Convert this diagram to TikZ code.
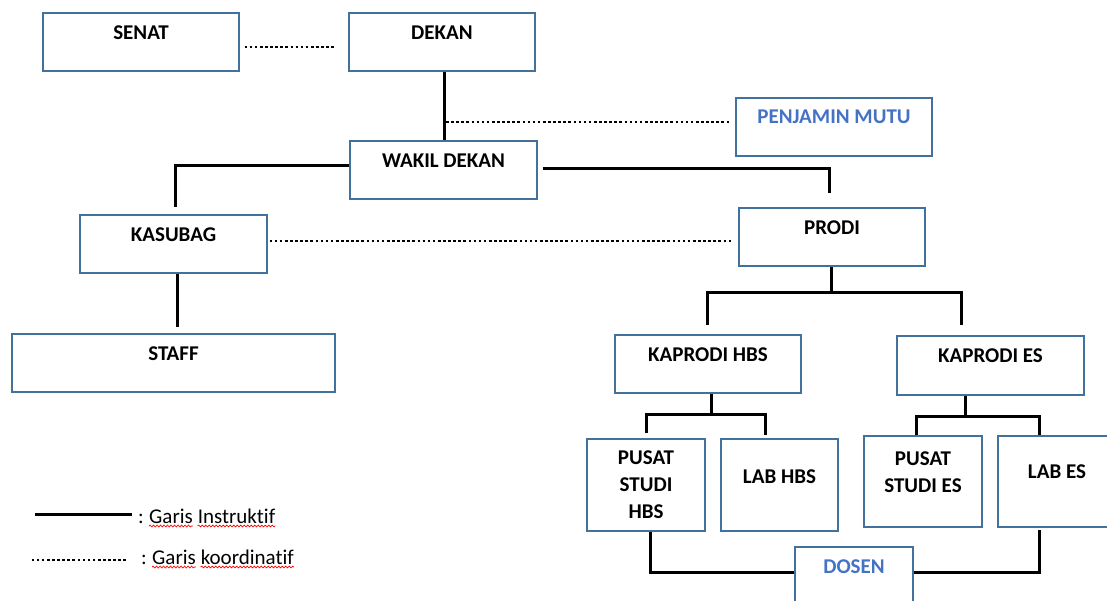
\documentclass[tikz,border=0pt]{standalone}
\usepackage{fontspec}
\setmainfont{Carlito}[Ligatures=NoCommon]
\usetikzlibrary{calc,positioning,decorations.pathmorphing}
\definecolor{boxline}{RGB}{65,113,156}
\definecolor{mutu}{RGB}{68,114,196}

\begin{document}
\begin{tikzpicture}[x=1pt, y=-1pt,
    box/.style={draw=boxline, line width=1.3pt, inner sep=0pt, minimum height=58pt},
    lbl/.style={font=\fontsize{21}{27}\selectfont\bfseries, anchor=center, yshift=-20pt, align=center},
    instr/.style={line width=3pt},
    koord/.style={line width=2.6pt, dash pattern=on 2.6pt off 2.5pt},
    legend/.style={font=\fontsize{21}{24}\selectfont, inner sep=0pt},
    spell/.style={draw=red, line width=0.7pt, decorate, decoration={snake, amplitude=0.9pt, segment length=3.5pt}}]
  \useasboundingbox (0,0) rectangle (1107,601);

  \node[box, minimum width=196pt, label={[lbl]north:SENAT}] (senat) at (141,42) {};
  \node[box, minimum width=186pt, label={[lbl]north:DEKAN}] (dekan) at (442,42) {};
  \node[box, minimum width=196pt, label={[lbl, text=mutu, yshift=1pt]north:PENJAMIN MUTU}] (pjm) at (834,127) {};
  \node[box, minimum width=187pt, label={[lbl]north:WAKIL DEKAN}] (wadek) at (443.5,170) {};
  \node[box, minimum width=187pt, label={[lbl]north:KASUBAG}] (kasubag) at (173.5,244) {};
  \node[box, minimum width=186pt, label={[lbl]north:PRODI}] (prodi) at (832,237) {};
  \node[box, minimum width=323pt, label={[lbl]north:STAFF}] (staff) at (173.5,363) {};
  \node[box, minimum width=186pt, label={[lbl]north:KAPRODI HBS}] (kaphbs) at (708,364) {};
  \node[box, minimum width=187pt, minimum height=59pt, label={[lbl]north:KAPRODI ES}] (kapes) at (990.5,365.5) {};
  \node[box, minimum width=118pt, minimum height=92pt, label={[lbl, yshift=-26pt]north:PUSAT\\STUDI\\HBS}] (pshbs) at (646,485) {};
  \node[box, minimum width=117pt, minimum height=92pt, label={[lbl, yshift=-18pt]north:LAB HBS}] (labhbs) at (779.5,485) {};
  \node[box, minimum width=118pt, minimum height=91pt, label={[lbl, yshift=-16.5pt]north:PUSAT\\STUDI ES}] (pses) at (923,481.5) {};
  \node[box, minimum width=118pt, minimum height=91pt, label={[lbl, yshift=-16pt]north:LAB ES}] (labes) at (1057,481.5) {};
  \node[box, minimum width=118pt, label={[lbl, text=mutu]north:DOSEN}] (dosen) at (854,576) {};

  % garis koordinatif
  \draw[koord] ([xshift=5pt,yshift=-5pt]senat.east) -- ([xshift=-12pt,yshift=-5pt]dekan.west);
  \draw[koord] ($(dekan.south |- pjm.west)+(4,-5)$) -- ([xshift=-6pt,yshift=5pt]pjm.west);
  \draw[koord] ([xshift=2pt,yshift=3pt]kasubag.east) -- ([xshift=-6pt,yshift=-4pt]prodi.west);

  % garis instruktif
  \draw[instr] ([xshift=2pt]dekan.south) -- ([xshift=0.5pt]wadek.north);
  \draw[instr] ([yshift=4pt]wadek.west) -| ([xshift=1.5pt,yshift=7pt]kasubag.north);
  \draw[instr] ([xshift=5pt,yshift=1pt]wadek.east) -| ([xshift=-3pt,yshift=14pt]prodi.north);
  \draw[instr] ([xshift=3.5pt]kasubag.south) -- ([xshift=3.5pt,yshift=6pt]staff.north);
  \draw[instr] ([xshift=-1pt]prodi.south) -- ([xshift=-1pt,yshift=-26pt]prodi.south);
  \draw[instr] ([xshift=-1pt,yshift=9pt]kaphbs.north) |- ([yshift=-26pt]prodi.south) -| ([xshift=-29.5pt,yshift=10pt]kapes.north);
  \draw[instr] ([xshift=3pt]kaphbs.south) -- ++(0,21);
  \draw[instr] ([yshift=5pt]pshbs.north) |- ([xshift=3pt,yshift=-21pt]kaphbs.south) -| ([xshift=-14.5pt,yshift=3pt]labhbs.north);
  \draw[instr] ([xshift=-25.5pt]kapes.south) -- ++(0,21);
  \draw[instr] ([xshift=-7pt]pses.north) |- ([xshift=-25.5pt,yshift=-21pt]kapes.south) -| ([xshift=-18pt]labes.north);
  \draw[instr] ([xshift=4pt]pshbs.south) |- ([yshift=4pt]dosen.west);
  \draw[instr] ([yshift=4pt]dosen.east) -| ([xshift=-18pt,yshift=-2pt]labes.south);

  % keterangan
  \node[legend, anchor=base west] (lgI) at (138,523) {:};
  \node[legend, base right=5pt of lgI] (lgIa) {Garis};
  \node[legend, base right=4.5pt of lgIa] (lgIb) {Instruktif};
  \node[legend, anchor=base west] (lgK) at (141,564) {:};
  \node[legend, base right=5pt of lgK] (lgKa) {Garis};
  \node[legend, base right=4.5pt of lgKa] (lgKb) {koordinatif};
  \foreach \w in {lgIa,lgIb,lgKa,lgKb}
    \draw[spell] ([yshift=-3pt]\w.base west) -- ([yshift=-3pt]\w.base east);
  \draw[instr] ([xshift=-6pt,yshift=9pt]lgI.base west) -- ++(-97,0);
  \draw[koord] ([xshift=-15pt,yshift=4pt]lgK.base west) -- ++(-94,0);
\end{tikzpicture}
\end{document}
